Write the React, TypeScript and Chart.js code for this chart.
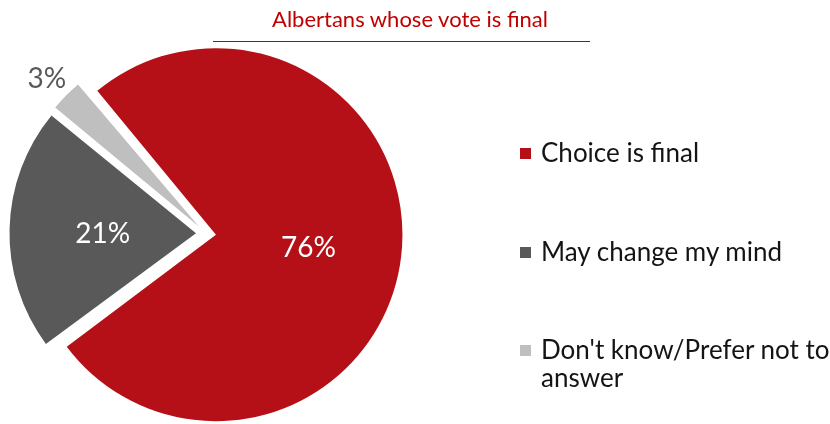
import React, { useEffect, useRef } from "react";
import { Chart, registerables } from "chart.js";

Chart.register(...registerables);

const titleText = "Albertans whose vote is final";
const categories = ["Choice is final", "May change my mind", "Don't know/Prefer not to answer"];
const values = [76, 21, 3];
const valueLabels = values.map((v) => `${v}%`);
const sliceColors = ["#B51017", "#595959", "#BFBFBF"];

const FONT = "Lato, 'Open Sans', sans-serif";
const EXPLODE = 10; // visible explode distance in px (Chart.js translates by offset/4)
const PIE_RADIUS = 186.5;

export default function App() {
  const canvasRef = useRef<HTMLCanvasElement | null>(null);

  useEffect(() => {
    const canvas = canvasRef.current;
    if (!canvas) return;

    // Chart.js enlarges exploded arcs by offset * (1 - sin(min(PI, circumference)));
    // compensate so every slice has the same radius, like the exploded pie in the reference.
    const equalRadius = {
      id: "equalRadius",
      beforeDatasetsDraw(chart: any) {
        const meta = chart.getDatasetMeta(0);
        meta.data.forEach((arc: any) => {
          const fix = 1 - Math.sin(Math.min(Math.PI, arc.circumference || 0));
          arc.outerRadius = PIE_RADIUS - EXPLODE * fix;
        });
      },
    };

    const labelPlugin = {
      id: "sliceLabels",
      afterDatasetsDraw(chart: any) {
        const ctx = chart.ctx;
        const meta = chart.getDatasetMeta(0);
        meta.data.forEach((arc: any, i: number) => {
          const p = arc.getProps(["x", "y", "startAngle", "endAngle"], true);
          const mid = (p.startAngle + p.endAngle) / 2;
          const inside = i < 2;
          const dist = inside ? EXPLODE + PIE_RADIUS * 0.5 : EXPLODE + PIE_RADIUS + 27;
          const x = p.x + Math.cos(mid) * dist;
          const y = p.y + Math.sin(mid) * dist + 2.5;
          ctx.save();
          ctx.font = `28px ${FONT}`;
          ctx.fillStyle = inside ? "#FFFFFF" : "#595959";
          ctx.textAlign = "center";
          ctx.textBaseline = "middle";
          ctx.fillText(valueLabels[i], x, y);
          ctx.restore();
        });
      },
    };

    const chart = new Chart(canvas, {
      type: "pie",
      data: {
        labels: categories,
        datasets: [
          {
            data: values,
            backgroundColor: sliceColors,
            borderWidth: 0,
            borderColor: "rgba(0,0,0,0)",
            offset: EXPLODE * 4,
            hoverOffset: 0,
            radius: PIE_RADIUS,
            clip: false as any,
          } as any,
        ],
      },
      options: {
        animation: false,
        responsive: false,
        maintainAspectRatio: false,
        rotation: 320,
        layout: { padding: { left: 17, right: 435, top: 45, bottom: 2 } },
        plugins: {
          legend: { display: false },
          tooltip: { enabled: false },
          title: { display: false },
        },
        events: [],
      },
      plugins: [equalRadius, labelPlugin],
    });

    return () => chart.destroy();
  }, []);

  return (
    <div
      style={{
        position: "fixed",
        left: 0,
        top: 0,
        width: 830,
        height: 424,
        background: "#FFFFFF",
        overflow: "hidden",
        fontFamily: FONT,
      }}
    >
      <canvas ref={canvasRef} width={830} height={424} style={{ position: "absolute", left: 0, top: 0, width: 830, height: 424 }} />
      <div
        style={{
          position: "absolute",
          left: 213,
          width: 377,
          top: 41,
          height: 0,
          borderTop: "1px solid #C00000",
        }}
      />
      <div
        style={{
          position: "absolute",
          left: 229,
          width: 362,
          top: 4,
          textAlign: "center",
          color: "#C00000",
          fontSize: 22,
          lineHeight: "30px",
          whiteSpace: "nowrap",
        }}
      >
        {titleText}
      </div>
      {categories.map((c, i) => (
        <div
          key={c}
          style={{
            position: "absolute",
            left: 520,
            top: [138, 237, 335][i],
            display: "flex",
            alignItems: "flex-start",
          }}
        >
          <div style={{ width: 11, height: 11, background: sliceColors[i], marginTop: 10, flex: "0 0 auto" }} />
          <div style={{ marginLeft: 10, width: 300, fontSize: 26, lineHeight: "28px", color: "#141414" }}>{c}</div>
        </div>
      ))}
    </div>
  );
}
